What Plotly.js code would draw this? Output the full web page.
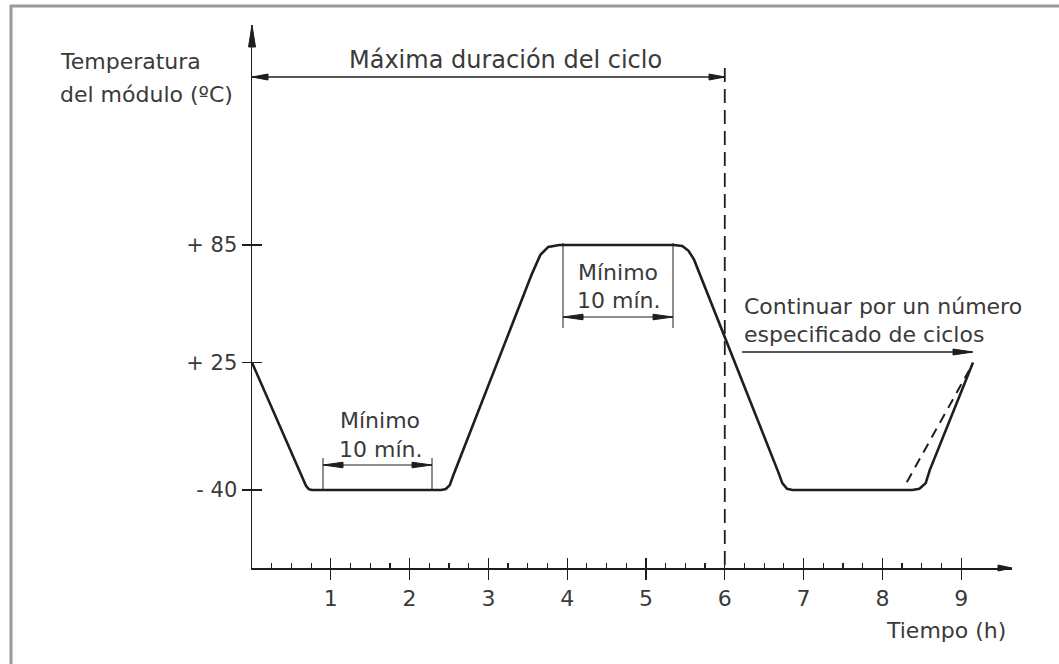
<!DOCTYPE html>
<html>
<head>
<meta charset="utf-8">
<script src="https://cdn.plot.ly/plotly-3.0.1.min.js"></script>
<style>html,body{margin:0;padding:0;background:#fff;}</style>
</head>
<body>
<div id="chart" style="width:1059px;height:664px;"></div>
<script>
// ---- Data ----
const timeH = [0, 0.65, 0.685, 0.72, 0.76, 2.40, 2.46, 2.51, 2.55, 3.55, 3.66, 3.76, 3.90,
               5.35, 5.46, 5.54, 5.61, 6.68, 6.73, 6.79, 6.86, 8.38, 8.47, 8.55, 8.60, 9.15];
const tempC = [25, -34.3, -37.9, -39.6, -40, -40, -39.5, -37.5, -33, 70, 80, 84, 85,
               85, 84.5, 82, 77.5, -31, -36.5, -39.4, -40, -40, -39.4, -36.5, -30, 25];
const altTimeH = [8.31, 9.10];
const altTempC = [-36, 21];
const maxCycleH = 6;
const xTickVals = [1, 2, 3, 4, 5, 6, 7, 8, 9];
const yTickVals = [85, 25, -40];
const yTickText = ['+ 85', '+ 25', '- 40'];

// minor quarter-hour ticks between the labelled hours
const xMinorVals = [];
[0].concat(xTickVals.slice(0, -1)).forEach(h => { [0.25, 0.5, 0.75].forEach(q => xMinorVals.push(h + q)); });

// ---- Layout geometry (pixels) ----
const L = 252, T = 25, W = 760, H = 543;
const FONT = 'DejaVu Sans';
const TXT = '#3a3a3a';
const INK = '#1e1e1e';
const px = x => (x - L) / W;
const py = y => (T + H - y) / H;

function ann(text, x, baseline, fs, xanchor) {
  return {text: text, xref: 'paper', yref: 'paper', x: px(x), y: py(baseline - 0.33 * fs),
          xanchor: xanchor || 'center', yanchor: 'middle', showarrow: false,
          font: {family: FONT, size: fs, color: TXT}};
}
function line(x0, y0, x1, y1, opts) {
  return Object.assign({type: 'line', xref: 'paper', yref: 'paper',
    x0: px(x0), y0: py(y0), x1: px(x1), y1: py(y1),
    line: {color: INK, width: 1.5}}, opts || {});
}
function head(x, y, dir, len, hw) {
  let p;
  if (dir === 'right') p = `M0,0 L${-len},${hw} L${-len},${-hw} Z`;
  else if (dir === 'left') p = `M0,0 L${len},${hw} L${len},${-hw} Z`;
  else if (dir === 'up') p = `M0,0 L${hw},${-len} L${-hw},${-len} Z`;
  return {type: 'path', xref: 'paper', yref: 'paper', xsizemode: 'pixel', ysizemode: 'pixel',
          xanchor: px(x), yanchor: py(y), path: p,
          fillcolor: INK, line: {color: INK, width: 1}};
}

const traces = [
  {x: timeH, y: tempC, mode: 'lines', line: {color: INK, width: 2.6}, hoverinfo: 'skip', showlegend: false},
  {x: altTimeH, y: altTempC, mode: 'lines', line: {color: INK, width: 2, dash: '10px,7px'}, hoverinfo: 'skip', showlegend: false},
  {x: [0], y: [0], xaxis: 'x2', yaxis: 'y', mode: 'markers', marker: {opacity: 0}, hoverinfo: 'skip', showlegend: false},
  {x: [0], y: [0], xaxis: 'x', yaxis: 'y2', mode: 'markers', marker: {opacity: 0}, hoverinfo: 'skip', showlegend: false}
];

const xRange = [0, 9.645];
const yRange = [-79.8, 197.2];

const shapes = [
  // frame
  line(10, 6, 1059, 6, {line: {color: '#9a9a9a', width: 3}}),
  line(11, 5, 11, 664, {line: {color: '#9a9a9a', width: 3}}),
  // axis arrowheads
  head(252, 25, 'up', 22, 3.5),
  head(1012, 568, 'right', 14, 3),
  // max cycle duration arrow
  line(252, 77, 725, 77),
  head(252, 77, 'left', 16, 3),
  head(725, 77, 'right', 16, 3),
  // dashed vertical line at max cycle duration
  {type: 'line', xref: 'x', yref: 'paper', x0: maxCycleH, x1: maxCycleH, y0: py(68), y1: py(568),
   line: {color: INK, width: 1.8, dash: '14px,7px'}},
  // first "Minimo 10 min" bracket
  line(323, 458, 323, 490, {line: {color: INK, width: 1}}),
  line(432, 458, 432, 490, {line: {color: INK, width: 1}}),
  line(323, 465, 432, 465, {line: {color: INK, width: 1.2}}),
  head(323, 465, 'left', 20, 2.8),
  head(432, 465, 'right', 20, 2.8),
  // second bracket
  line(563, 243, 563, 328, {line: {color: INK, width: 1}}),
  line(673, 243, 673, 328, {line: {color: INK, width: 1}}),
  line(563, 317, 673, 317, {line: {color: INK, width: 1.2}}),
  head(563, 317, 'left', 20, 2.8),
  head(673, 317, 'right', 20, 2.8),
  // continue arrow
  line(742, 352, 972, 352, {line: {color: INK, width: 1.3}}),
  head(973, 352, 'right', 20, 3)
];

const annotations = [
  ann('Temperatura', 58, 69, 22, 'left'),
  ann('del módulo (ºC)', 58, 102, 22, 'left'),
  ann('Máxima duración del ciclo', 347, 68, 24, 'left'),
  ann('Mínimo', 380, 428, 22),
  ann('10 mín.', 380, 457, 22),
  ann('Mínimo', 618, 280, 22),
  ann('10 mín.', 618, 308, 22),
  ann('Continuar por un número', 742, 314, 22, 'left'),
  ann('especificado de ciclos', 742, 342, 22, 'left'),
  ann('Tiempo (h)', 1008, 638, 22, 'right')
];

const layout = {
  width: 1059, height: 664, autosize: false,
  margin: {l: L, r: 1059 - L - W, t: T, b: 664 - T - H, pad: 0},
  paper_bgcolor: '#ffffff', plot_bgcolor: 'rgba(0,0,0,0)',
  showlegend: false,
  xaxis: {
    range: xRange, showgrid: false, zeroline: false,
    showline: true, linecolor: INK, linewidth: 1.5,
    tickmode: 'array', tickvals: xTickVals, ticktext: xTickVals.map(String),
    ticks: 'outside', ticklen: 10, tickwidth: 1.3, tickcolor: INK,
    ticklabelstandoff: 0,
    tickfont: {family: FONT, size: 22, color: TXT},
    minor: {tickmode: 'array', tickvals: xMinorVals, ticks: 'inside', ticklen: 5, tickwidth: 1.2, tickcolor: INK, showgrid: false},
    fixedrange: true
  },
  xaxis2: {
    range: xRange, overlaying: 'x', anchor: 'y', side: 'bottom',
    showgrid: false, zeroline: false, showline: false,
    tickmode: 'array', tickvals: xTickVals, ticks: 'inside', ticklen: 10, tickwidth: 1.3, tickcolor: INK,
    showticklabels: false, fixedrange: true
  },
  yaxis: {
    range: yRange, showgrid: false, zeroline: false,
    showline: true, linecolor: INK, linewidth: 1.5,
    tickmode: 'array', tickvals: yTickVals, ticktext: yTickText,
    ticks: 'outside', ticklen: 9, tickwidth: 1.3, tickcolor: INK,
    ticklabelstandoff: 0,
    tickfont: {family: FONT, size: 21, color: TXT},
    fixedrange: true
  },
  yaxis2: {
    range: yRange, overlaying: 'y', anchor: 'x', side: 'left',
    showgrid: false, zeroline: false, showline: false,
    tickmode: 'array', tickvals: yTickVals, ticks: 'inside', ticklen: 10, tickwidth: 1.3, tickcolor: INK,
    showticklabels: false, fixedrange: true
  },
  shapes: shapes,
  annotations: annotations
};

Plotly.newPlot('chart', traces, layout, {displayModeBar: false, staticPlot: true});
</script>
</body>
</html>
